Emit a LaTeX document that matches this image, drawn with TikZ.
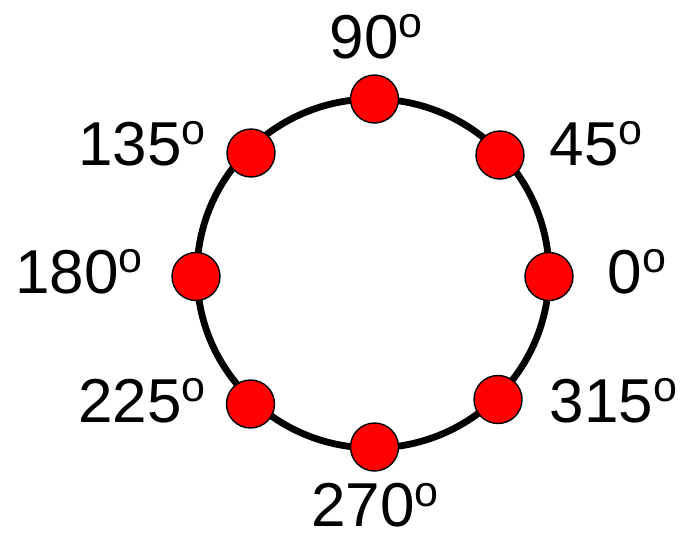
\documentclass[tikz,border=0pt]{standalone}
\usepackage{fontspec}
\setmainfont{Liberation Sans}
\newcommand{\degsym}{\raisebox{20.5pt}{\fontsize{43}{43}\selectfont o}}
\begin{document}
\begin{tikzpicture}[x=1pt,y=-1pt,
  dot/.style={circle,fill=red,draw=black,line width=1.4pt,minimum size=48pt,inner sep=0pt},
  lbl/.style={anchor=base west,inner sep=0pt,text depth=0pt,font=\fontsize{62}{62}\selectfont}]
\useasboundingbox (0,0) rectangle (688,533);
\coordinate (c) at (373,273.5);
\draw[line width=6.8pt] (c) ellipse [x radius=176, y radius=174.5];
\node[dot] (d0) at (549,276.5) {};
\node[dot] (d45) at (500,155) {};
\node[dot] (d90) at (374.5,99) {};
\node[dot] (d135) at (251,153) {};
\node[dot] (d180) at (196,276.5) {};
\node[dot] (d225) at (250.5,404) {};
\node[dot] (d270) at (374.5,447) {};
\node[dot] (d315) at (498,399.5) {};
\node[lbl] (t90) at (329.5,58) {90\degsym};
\node[lbl] (t45) at (549.5,165) {45\degsym};
\node[lbl] (t0) at (607.5,293) {0\degsym};
\node[lbl] (t315) at (549.5,422) {315\degsym};
\node[lbl] (t270) at (311,526.5) {270\degsym};
\node[lbl] (t225) at (78,422) {225\degsym};
\node[lbl] (t180) at (15,293) {180\degsym};
\node[lbl] (t135) at (78,165) {135\degsym};
\end{tikzpicture}
\end{document}
